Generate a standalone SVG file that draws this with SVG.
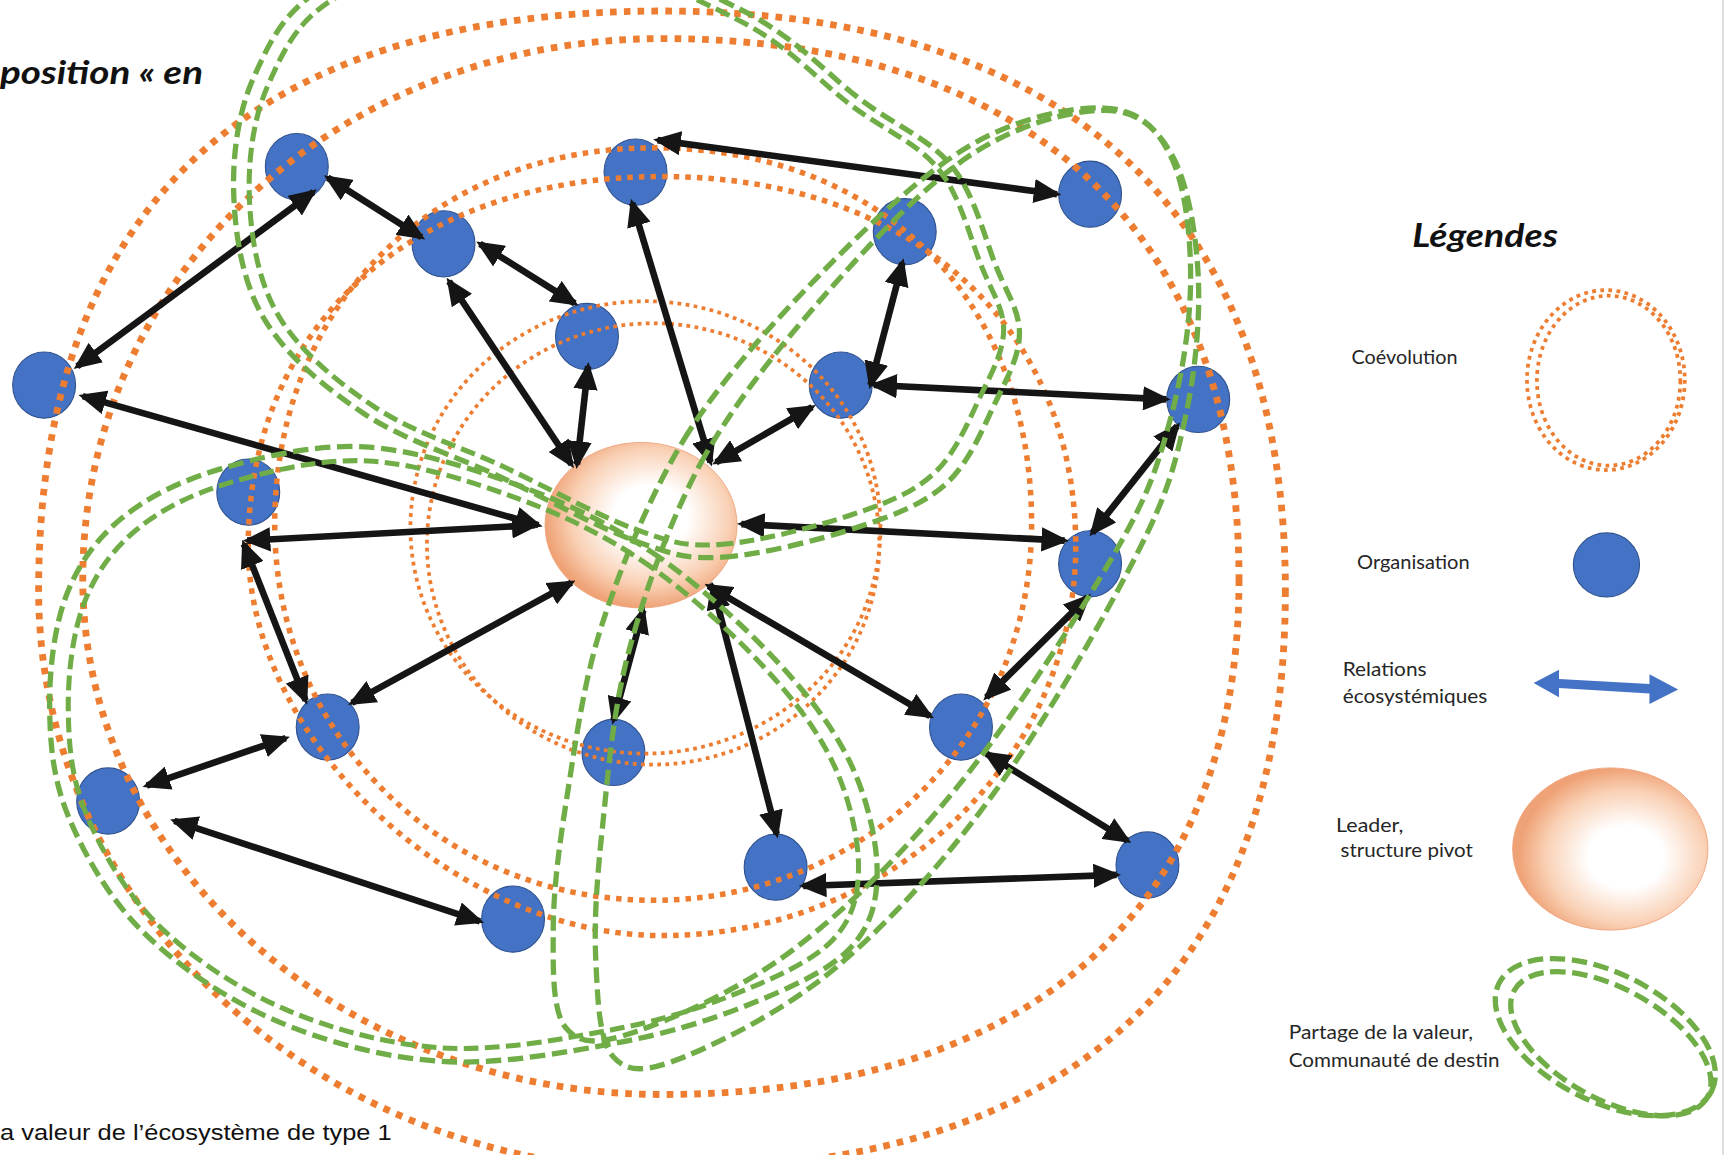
<svg xmlns="http://www.w3.org/2000/svg" width="1730" height="1155" viewBox="0 0 1730 1155">
<style>
.ro{fill:none;stroke:#ED7D31;stroke-width:6.2;stroke-dasharray:6 6.5}
.rm{fill:none;stroke:#ED7D31;stroke-width:5;stroke-dasharray:5 5.5}
.ri{fill:none;stroke:#ED7D31;stroke-width:3.4;stroke-dasharray:3.4 4}
.lp{fill:none;stroke:#70AD47;stroke-width:4.8;stroke-dasharray:14 6}
.org{fill:#4472C4;stroke:#2F528F;stroke-width:1}
.rel{stroke:#151515;stroke-width:6;marker-start:url(#ah);marker-end:url(#ah)}
.lbl{font-family:Lato,'Open Sans','Liberation Sans',sans-serif;font-size:17px;fill:#262626}
.ttl{font-family:Lato,'Open Sans','Liberation Sans',sans-serif;font-weight:bold;font-style:italic;fill:#111}
</style>
<defs>
<marker id="ah" viewBox="0 0 25 22" refX="21" refY="11" markerWidth="25" markerHeight="22" markerUnits="userSpaceOnUse" orient="auto-start-reverse">
<path d="M0,0 L25,11 L0,22 Z" fill="#151515"/>
</marker>
<radialGradient id="gl" cx="0.55" cy="0.45" r="0.55">
<stop offset="0" stop-color="#FFFFFF"/>
<stop offset="0.35" stop-color="#FFFFFF"/>
<stop offset="0.75" stop-color="#F9D0B4"/>
<stop offset="1" stop-color="#EFA276"/>
</radialGradient>
<radialGradient id="gl2" cx="0.58" cy="0.55" r="0.55">
<stop offset="0" stop-color="#FFFFFF"/>
<stop offset="0.35" stop-color="#FFFFFF"/>
<stop offset="0.75" stop-color="#F9D0B4"/>
<stop offset="1" stop-color="#EFA276"/>
</radialGradient>
</defs>
<rect x="0" y="0" width="1730" height="1155" fill="#FFFFFF"/>
<line x1="1723" y1="0" x2="1723" y2="1155" stroke="#D6D6D6" stroke-width="1.5"/>
<g transform="scale(1.10332)">
<g id="leader">
<ellipse cx="581" cy="476" rx="87" ry="75" fill="url(#gl)" stroke="#EFA27A" stroke-width="0.8"/>
</g>
<g id="organisations">
<g id="node-A"><ellipse class="org" cx="269" cy="151" rx="28.5" ry="30"/></g>
<g id="node-B"><ellipse class="org" cx="402" cy="221" rx="28.5" ry="30"/></g>
<g id="node-C"><ellipse class="org" cx="576" cy="156" rx="28.5" ry="30"/></g>
<g id="node-D"><ellipse class="org" cx="988" cy="176" rx="28.5" ry="30"/></g>
<g id="node-E"><ellipse class="org" cx="820" cy="210" rx="28.5" ry="30"/></g>
<g id="node-F"><ellipse class="org" cx="532" cy="305" rx="28.5" ry="30"/></g>
<g id="node-G"><ellipse class="org" cx="762" cy="349" rx="28.5" ry="30"/></g>
<g id="node-H"><ellipse class="org" cx="40" cy="349" rx="28.5" ry="30"/></g>
<g id="node-I"><ellipse class="org" cx="1086" cy="362" rx="28.5" ry="30"/></g>
<g id="node-J"><ellipse class="org" cx="225" cy="446" rx="28.5" ry="30"/></g>
<g id="node-K"><ellipse class="org" cx="988" cy="511" rx="28.5" ry="30"/></g>
<g id="node-L"><ellipse class="org" cx="297" cy="659" rx="28.5" ry="30"/></g>
<g id="node-M"><ellipse class="org" cx="556" cy="682" rx="28.5" ry="30"/></g>
<g id="node-N"><ellipse class="org" cx="871" cy="659" rx="28.5" ry="30"/></g>
<g id="node-O"><ellipse class="org" cx="98" cy="726" rx="28.5" ry="30"/></g>
<g id="node-P"><ellipse class="org" cx="703" cy="786" rx="28.5" ry="30"/></g>
<g id="node-Q"><ellipse class="org" cx="1040" cy="784" rx="28.5" ry="30"/></g>
<g id="node-R"><ellipse class="org" cx="465" cy="833" rx="28.5" ry="30"/></g>
</g>
<g id="coevolution-rings">
<path class="ro" d="M1165,535 C1165,881.5 972.9,1060 600,1060 C289.3,1060 35,823.8 35,535 C35,188.5 227.1,10 600,10 C967.3,10 1165,193.8 1165,535 Z"/>
<path class="ro" d="M1123,525 C1123,823.9 934.7,992 600,992 C311.3,992 75,781.9 75,525 C75,250.6 306,35 600,35 C934.7,35 1123,211.4 1123,525 Z"/>
<path class="rm" d="M975,495 C975,689.2 806.3,848 600,848 C412.5,848 225,671.5 225,495 C225,294 375,160 600,160 C825,160 975,294 975,495 Z"/>
<path class="rm" d="M935,475 C935,666 784.1,816 592,816 C399.9,816 249,666 249,475 C249,277 393,134 592,134 C797.8,134 935,270.4 935,475 Z"/>
<ellipse class="ri" cx="585" cy="478" rx="213" ry="205"/>
<ellipse class="ri" cx="592" cy="493" rx="205" ry="200"/>
</g>
<g id="relations">
<line class="rel" x1="284" y1="174" x2="70" y2="332"/>
<line class="rel" x1="297" y1="161" x2="382" y2="215"/>
<line class="rel" x1="435" y1="221" x2="521" y2="275"/>
<line class="rel" x1="407" y1="255" x2="518" y2="421"/>
<line class="rel" x1="533" y1="332" x2="523" y2="421"/>
<line class="rel" x1="573" y1="184" x2="644" y2="419"/>
<line class="rel" x1="596" y1="127" x2="958" y2="176"/>
<line class="rel" x1="818" y1="238" x2="789" y2="349"/>
<line class="rel" x1="736" y1="369" x2="649" y2="419"/>
<line class="rel" x1="792" y1="349" x2="1057" y2="362"/>
<line class="rel" x1="75" y1="359" x2="488" y2="476"/>
<line class="rel" x1="224" y1="490" x2="485" y2="476"/>
<line class="rel" x1="221" y1="493" x2="277" y2="635"/>
<line class="rel" x1="319" y1="637" x2="518" y2="528"/>
<line class="rel" x1="1067" y1="386" x2="990" y2="483"/>
<line class="rel" x1="672" y1="475" x2="965" y2="490"/>
<line class="rel" x1="986" y1="541" x2="894" y2="632"/>
<line class="rel" x1="583" y1="553" x2="556" y2="653"/>
<line class="rel" x1="646" y1="531" x2="704" y2="756"/>
<line class="rel" x1="642" y1="531" x2="843" y2="649"/>
<line class="rel" x1="894" y1="683" x2="1022" y2="762"/>
<line class="rel" x1="728" y1="803" x2="1012" y2="793"/>
<line class="rel" x1="259" y1="669" x2="133" y2="712"/>
<line class="rel" x1="158" y1="744" x2="435" y2="835"/>
</g>
<g id="value-sharing-loops">
<path class="lp" d="M655,505 C688.7,503 743.2,489.2 777,478 C810.8,466.8 837,457.2 858,438 C879,418.8 892,385.7 903,363 C914,340.3 924,322.2 924,302 C924,281.8 913.2,267.2 903,242 C892.8,216.8 883.3,176.2 863,151 C842.7,125.8 812.8,114.7 781,91 C749.2,67.3 722.2,34.2 672,9 C621.8,-16.2 542,-56 480,-60 C418,-64 341.7,-36.7 300,-15 C258.3,6.7 244.7,37.5 230,70 C215.3,102.5 210.3,143.3 212,180 C213.7,216.7 220.3,257.5 240,290 C259.7,322.5 294.5,351.3 330,375 C365.5,398.7 412.2,412.8 453,432 C493.8,451.2 541.3,477.8 575,490 C608.7,502.2 621.3,507 655,505 Z"/>
<path class="lp" transform="translate(565 220) scale(0.96) translate(-565 -220)" d="M655,505 C688.7,503 743.2,489.2 777,478 C810.8,466.8 837,457.2 858,438 C879,418.8 892,385.7 903,363 C914,340.3 924,322.2 924,302 C924,281.8 913.2,267.2 903,242 C892.8,216.8 883.3,176.2 863,151 C842.7,125.8 812.8,114.7 781,91 C749.2,67.3 722.2,34.2 672,9 C621.8,-16.2 542,-56 480,-60 C418,-64 341.7,-36.7 300,-15 C258.3,6.7 244.7,37.5 230,70 C215.3,102.5 210.3,143.3 212,180 C213.7,216.7 220.3,257.5 240,290 C259.7,322.5 294.5,351.3 330,375 C365.5,398.7 412.2,412.8 453,432 C493.8,451.2 541.3,477.8 575,490 C608.7,502.2 621.3,507 655,505 Z"/>
<path class="lp" d="M590,500 C628.3,525.8 670,563.3 700,595 C730,626.7 754.2,657.5 770,690 C785.8,722.5 795,761.7 795,790 C795,818.3 789.2,840 770,860 C750.8,880 715,895.8 680,910 C645,924.2 606.7,936.3 560,945 C513.3,953.7 451.7,965.3 400,962 C348.3,958.7 295,944.5 250,925 C205,905.5 161.3,875.8 130,845 C98.7,814.2 76.2,774.2 62,740 C47.8,705.8 45.3,673.3 45,640 C44.7,606.7 49.2,568.3 60,540 C70.8,511.7 86.7,489.2 110,470 C133.3,450.8 163.3,435.8 200,425 C236.7,414.2 285,402.5 330,405 C375,407.5 426.7,424.2 470,440 C513.3,455.8 551.7,474.2 590,500 Z"/>
<path class="lp" transform="translate(420 690) scale(0.955) translate(-420 -690)" d="M590,500 C628.3,525.8 670,563.3 700,595 C730,626.7 754.2,657.5 770,690 C785.8,722.5 795,761.7 795,790 C795,818.3 789.2,840 770,860 C750.8,880 715,895.8 680,910 C645,924.2 606.7,936.3 560,945 C513.3,953.7 451.7,965.3 400,962 C348.3,958.7 295,944.5 250,925 C205,905.5 161.3,875.8 130,845 C98.7,814.2 76.2,774.2 62,740 C47.8,705.8 45.3,673.3 45,640 C44.7,606.7 49.2,568.3 60,540 C70.8,511.7 86.7,489.2 110,470 C133.3,450.8 163.3,435.8 200,425 C236.7,414.2 285,402.5 330,405 C375,407.5 426.7,424.2 470,440 C513.3,455.8 551.7,474.2 590,500 Z"/>
<path class="lp" d="M635,420 C664.5,366.3 706.3,314.5 747,268 C787.7,221.5 836.8,169 879,141 C921.2,113 969.5,100.2 1000,100 C1030.5,99.8 1047.7,115 1062,140 C1076.3,165 1084,210 1086,250 C1088,290 1083.3,337.8 1074,380 C1064.7,422.2 1059,446.3 1030,503 C1001,559.7 945,658 900,720 C855,782 806.7,835.3 760,875 C713.3,914.7 654,944.2 620,958 C586,971.8 569.3,972.7 556,958 C542.7,943.3 541.7,904.7 540,870 C538.3,835.3 541,796.7 546,750 C551,703.3 555.2,645 570,590 C584.8,535 606.5,473.7 635,420 Z"/>
<path class="lp" transform="rotate(3 1040 120)" d="M635,420 C664.5,366.3 706.3,314.5 747,268 C787.7,221.5 836.8,169 879,141 C921.2,113 969.5,100.2 1000,100 C1030.5,99.8 1047.7,115 1062,140 C1076.3,165 1084,210 1086,250 C1088,290 1083.3,337.8 1074,380 C1064.7,422.2 1059,446.3 1030,503 C1001,559.7 945,658 900,720 C855,782 806.7,835.3 760,875 C713.3,914.7 654,944.2 620,958 C586,971.8 569.3,972.7 556,958 C542.7,943.3 541.7,904.7 540,870 C538.3,835.3 541,796.7 546,750 C551,703.3 555.2,645 570,590 C584.8,535 606.5,473.7 635,420 Z"/>
</g>
<text class="ttl" x="0" y="76" font-size="30" textLength="184" lengthAdjust="spacingAndGlyphs">position « en</text>
<text x="0" y="1033" font-family="'Liberation Sans',Arial,sans-serif" font-size="20" fill="#111" textLength="355" lengthAdjust="spacingAndGlyphs">a valeur de l’écosystème de type 1</text>
<g id="legend">
<text class="ttl" x="1280" y="224" font-size="30" textLength="132" lengthAdjust="spacingAndGlyphs">Légendes</text>
<g id="legend-coevolution">
<text class="lbl" x="1225" y="330" textLength="96" lengthAdjust="spacingAndGlyphs">Coévolution</text>
<ellipse class="ri" cx="1455.5" cy="344.5" rx="71.5" ry="81.5" stroke-width="3.2" stroke-dasharray="3.2 3.5"/>
<ellipse class="ri" cx="1458" cy="345" rx="65" ry="77" stroke-width="3.2" stroke-dasharray="3.2 3.5"/>
</g>
<g id="legend-organisation">
<text class="lbl" x="1230" y="516" textLength="102" lengthAdjust="spacingAndGlyphs">Organisation</text>
<ellipse class="org" cx="1456" cy="512" rx="30" ry="29"/>
</g>
<g id="legend-relations">
<text class="lbl" x="1217" y="613" textLength="76" lengthAdjust="spacingAndGlyphs">Relations</text>
<text class="lbl" x="1217" y="637.5" textLength="131" lengthAdjust="spacingAndGlyphs">écosystémiques</text>
<polygon points="1390,619 1413,607 1413,615.5 1495,620 1495,611 1521,625 1495,638 1495,628.5 1413,623.5 1413,632" fill="#4472C4"/>
</g>
<g id="legend-leader">
<text class="lbl" x="1211" y="754" textLength="61" lengthAdjust="spacingAndGlyphs">Leader,</text>
<text class="lbl" x="1215" y="777" textLength="120" lengthAdjust="spacingAndGlyphs">structure pivot</text>
<ellipse cx="1459.5" cy="769.5" rx="88.5" ry="73.5" fill="url(#gl2)" stroke="#EFA27A" stroke-width="0.8"/>
</g>
<g id="legend-partage">
<text class="lbl" x="1168" y="942" textLength="167" lengthAdjust="spacingAndGlyphs">Partage de la valeur,</text>
<text class="lbl" x="1168" y="967" textLength="191" lengthAdjust="spacingAndGlyphs">Communauté de destin</text>
<ellipse class="lp" cx="1455" cy="940" rx="108" ry="58" transform="rotate(27 1455 940)" stroke-dasharray="13 5"/>
<ellipse class="lp" cx="1460" cy="946" rx="100" ry="50" transform="rotate(29 1460 946)" stroke-dasharray="13 5"/>
</g>
</g>
</g>
</svg>
